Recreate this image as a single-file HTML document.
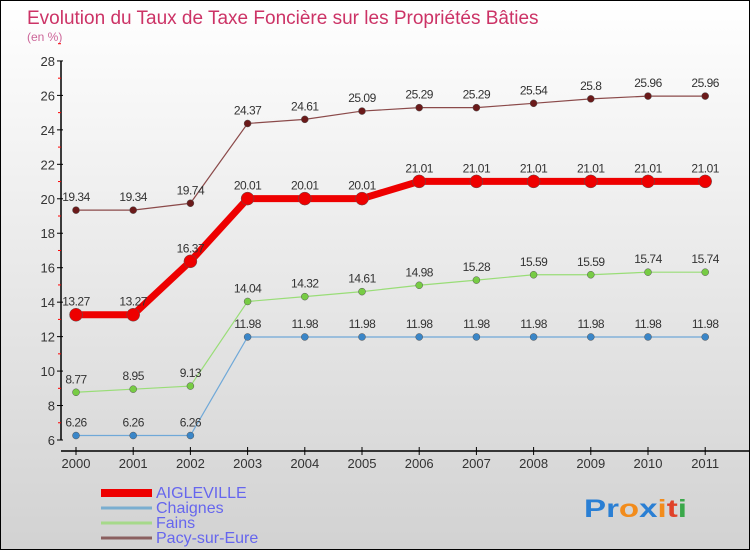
<!DOCTYPE html>
<html><head><meta charset="utf-8"><style>
body{margin:0}
#wrap{width:748px;height:548px;border:1px solid #000;background:linear-gradient(#ffffff,#d2d2d2);position:relative;font-family:"Liberation Sans",sans-serif;overflow:hidden}
</style></head><body>
<div id="wrap">
<svg id="c" width="748" height="548">
<text x="26" y="23" font-size="19" fill="#cc3366">Evolution du Taux de Taxe Foncière sur les Propriétés Bâties</text>
<text x="26" y="40" font-size="12" fill="#cc6699">(en %)</text>
<text x="583" y="516" font-size="25" font-weight="bold" textLength="103" lengthAdjust="spacingAndGlyphs"><tspan fill="#2a7fd4">Pr</tspan><tspan fill="#f28c1c">o</tspan><tspan fill="#2a7fd4">x</tspan><tspan fill="#f28c1c">i</tspan><tspan fill="#e0422a">t</tspan><tspan fill="#3aa84a">i</tspan></text>
</svg>
</div>
<script>
const years=[2000,2001,2002,2003,2004,2005,2006,2007,2008,2009,2010,2011];
const yTicks=[6,8,10,12,14,16,18,20,22,24,26,28];
const aigleville=[13.27,13.27,16.37,20.01,20.01,20.01,21.01,21.01,21.01,21.01,21.01,21.01];
const chaignes=[6.26,6.26,6.26,11.98,11.98,11.98,11.98,11.98,11.98,11.98,11.98,11.98];
const fains=[8.77,8.95,9.13,14.04,14.32,14.61,14.98,15.28,15.59,15.59,15.74,15.74];
const pacy=[19.34,19.34,19.74,24.37,24.61,25.09,25.29,25.29,25.54,25.8,25.96,25.96];
const names=["AIGLEVILLE","Chaignes","Fains","Pacy-sur-Eure"];
const NS="http://www.w3.org/2000/svg";
const svg=document.getElementById('c');
const x=i=>75+i*57.2;
const y=v=>439-(v-6)*17.23;
function mk(t,a,p){const e=document.createElementNS(NS,t);for(const k in a)e.setAttribute(k,a[k]);(p||svg).appendChild(e);return e;}
let ax=mk('g',{});


mk('line',{x1:60,y1:y(28),x2:60,y2:y(6),stroke:'#000','stroke-width':1.5},ax);
yTicks.forEach(v=>{mk('line',{x1:56,y1:y(v),x2:62,y2:y(v),stroke:'#000'},ax);
 mk('line',{x1:57,y1:y(v+1),x2:60,y2:y(v+1),stroke:'#f00'},ax);
 const t=mk('text',{x:54,y:y(v)+5,'text-anchor':'end','font-size':13,fill:'#333'},ax);t.textContent=v;});
let bx=mk('g',{});


mk('line',{x1:60,y1:450,x2:748,y2:450,stroke:'#000','stroke-width':1.5},bx);
years.forEach((yr,i)=>{mk('line',{x1:x(i),y1:446,x2:x(i),y2:454,stroke:'#000'},bx);
 const t=mk('text',{x:x(i),y:467,'text-anchor':'middle','font-size':13,fill:'#333'},bx);t.textContent=yr;});
function series(vals,col,dot,w,r,nm){
 const g=mk('g',{});
 
 
 mk('polyline',{points:vals.map((v,i)=>x(i)+','+y(v)).join(' '),fill:'none',stroke:col,'stroke-width':w},g);
 vals.forEach((v,i)=>{const c=mk('circle',{cx:x(i),cy:y(v),r:r,fill:dot,stroke:'#555','stroke-width':0.5},g);
  
  
  const t=mk('text',{x:x(i),y:y(v)-9,'text-anchor':'middle','font-size':12,fill:'#333','letter-spacing':'-0.5'},g);t.textContent=v;});
}
series(pacy,'#8b4a4a','#6b1a1a',1.2,3.5,'series-pacy-sur-eure');
series(fains,'#99dd77','#77cc44',1.2,3.5,'series-fains');
series(chaignes,'#6fa8d8','#3a86c8',1.2,3.5,'series-chaignes');
series(aigleville,'#ee0000','#ee0000',7,6.5,'series-aigleville');
const cols=['#ee0000','#7aaed0','#a6d98a','#8b6060'],ws=[8,3,3,3],ly=[492,507,522,537];
names.forEach((n,i)=>{const g=mk('g',{});
 
 
 mk('line',{x1:100,y1:ly[i],x2:151,y2:ly[i],stroke:cols[i],'stroke-width':ws[i]},g);
 const t=mk('text',{x:155,y:ly[i]+5,'font-size':16,fill:'#6666ee'},g);t.textContent=n;});
</script>
</body></html>
